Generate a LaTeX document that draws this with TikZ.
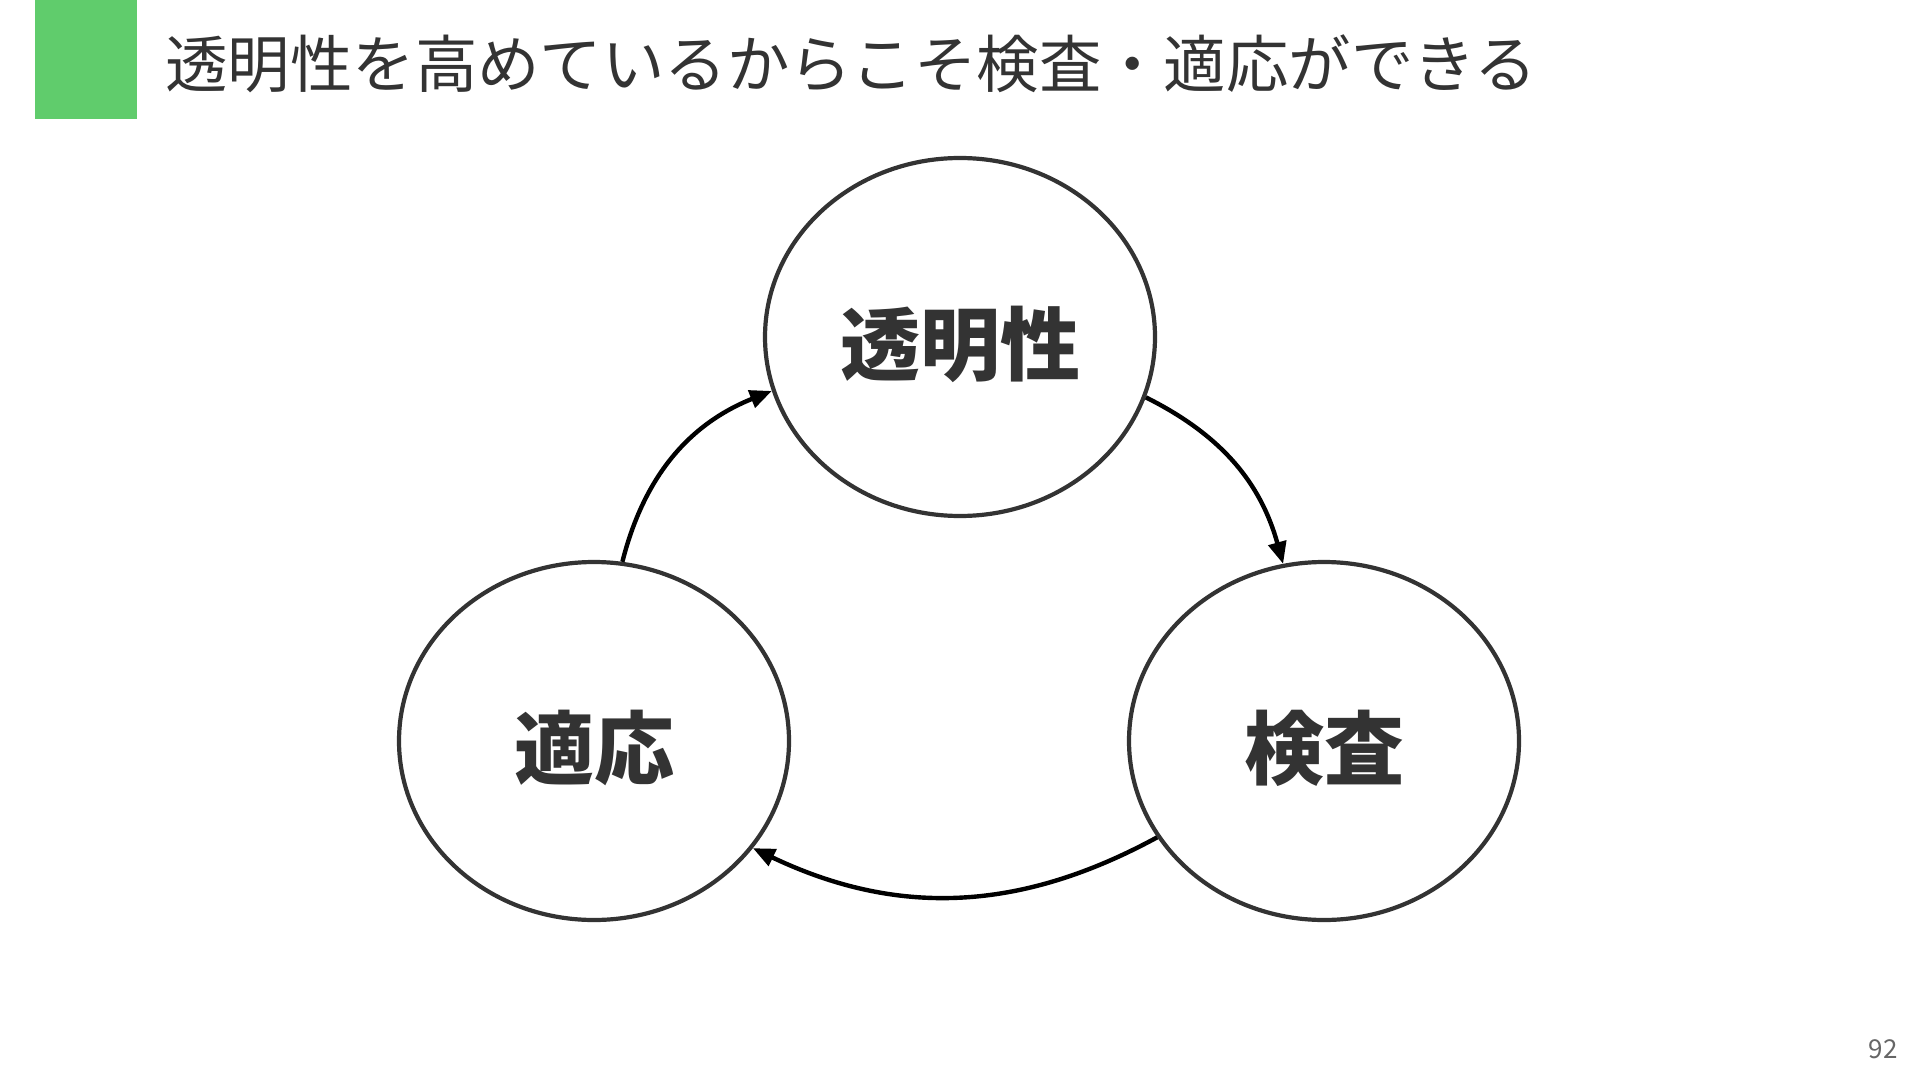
\documentclass[tikz,border=0pt]{standalone}
\usepackage{fontspec}
\setmainfont{Noto Sans CJK JP}
\usetikzlibrary{shapes,arrows,arrows.meta,positioning}
\definecolor{headgreen}{RGB}{96,204,108}
\definecolor{inkgray}{RGB}{51,51,51}
\tikzstyle{stage} = [draw=inkgray, line width=2.1pt, ellipse, inner sep=0pt, minimum width=195pt, minimum height=179pt, text=inkgray, text height=42pt, text depth=5pt, font=\fontsize{40}{40}\selectfont\bfseries]
\tikzstyle{cycle} = [->, line width=2.2pt, bend left=27]

\begin{document}
\begin{tikzpicture}[x=0.5pt, y=-0.5pt, on grid, >={Triangle[length=11pt,width=9pt]}]
    \useasboundingbox (0,0) rectangle (1920,1080);
    % Heading
    \fill [headgreen] (35,0) rectangle (137,119);
    \node [anchor=west, inner sep=0pt, text=inkgray, font=\fontsize{31.2}{31.2}\selectfont] (title) at (165,64) {透明性を高めているからこそ検査・適応ができる};
    % Stages
    \node [stage] (transp) at (960,337) {透明性};
    \node [stage, below left=202pt and 183pt of transp] (adapt) {適応};
    \node [stage, below right=202pt and 182pt of transp] (inspect) {検査};
    % Cycle
    \draw [cycle] (adapt.81) to (transp.196);
    \draw [cycle, bend left=24] (transp.342) to (inspect.103);
    \draw [cycle, bend left=27] (inspect.210.5) to (adapt.326);
    % Page number
    \node [text=black!60, font=\fontsize{13}{13}\selectfont] (page) at (1883,1049) {92};
\end{tikzpicture}
\end{document}
